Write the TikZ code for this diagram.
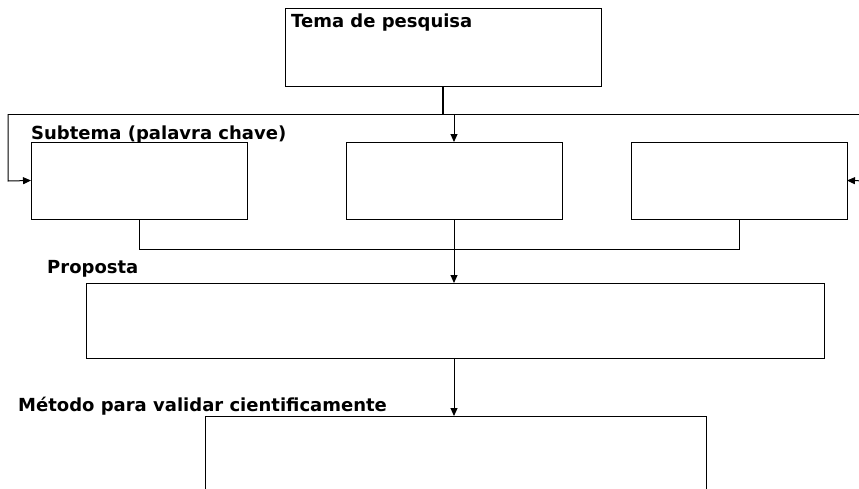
\documentclass[tikz,border=0pt]{standalone}
\usepackage{fontspec}
\setmainfont{DejaVu Sans}
\usetikzlibrary{arrows.meta}
\begin{document}
\begin{tikzpicture}[x=1pt,y=-1pt,
  box/.style={draw=black,line width=1pt,rectangle,inner sep=0pt,outer sep=0pt,anchor=north west},
  lbl/.style={inner sep=0pt,anchor=base west,font=\fontsize{18}{20}\selectfont\bfseries},
  conn/.style={draw=black,line width=1pt},
  arr/.style={conn,-{Triangle[length=8pt,width=7pt]}}]
\useasboundingbox (0,0) rectangle (859,488);
\clip (0,0) rectangle (859,488);
\node[box,minimum width=316pt,minimum height=78pt] (tema) at (285,8) {};
\node[box,minimum width=216pt,minimum height=77pt] (s1) at (31,142) {};
\node[box,minimum width=216pt,minimum height=77pt] (s2) at (346,142) {};
\node[box,minimum width=216pt,minimum height=77pt] (s3) at (631,142) {};
\node[box,minimum width=738pt,minimum height=75pt] (prop) at (86,283) {};
\node[box,minimum width=501pt,minimum height=90pt] (met) at (205,416) {};
\node[lbl] (ltema) at (291,27) {Tema de pesquisa};
\node[lbl] (lsub) at (31,139) {Subtema (palavra chave)};
\node[lbl] (lprop) at (47,273) {Proposta};
\node[lbl] (lmet) at (18,411) {Método para validar cientificamente};
\coordinate (tj) at (443,114);
\coordinate (jl) at (8,114);
\coordinate (jr) at (870,114);
\coordinate (jm) at (454,114);
\coordinate (bl) at (8,181);
\coordinate (br) at (870,181);
\coordinate (by) at (0,249);
\draw[conn,line width=2pt] (tj |- tema.south) -- (tj);
\draw[conn] (jl) -- (jr) -- (br);
\draw[arr] (jl) -- (bl) -- (s1.west);
\draw[arr] (br) -- (s3.east);
\draw[arr] (jm) -- (s2.north);
\draw[conn] (s1.south) -- (s1.south |- by) -- (s3.south |- by) -- (s3.south);
\draw[arr] (s2.south) -- (s2.south |- prop.north);
\draw[arr] (s2.south |- prop.south) -- (s2.south |- met.north);
\end{tikzpicture}
\end{document}
